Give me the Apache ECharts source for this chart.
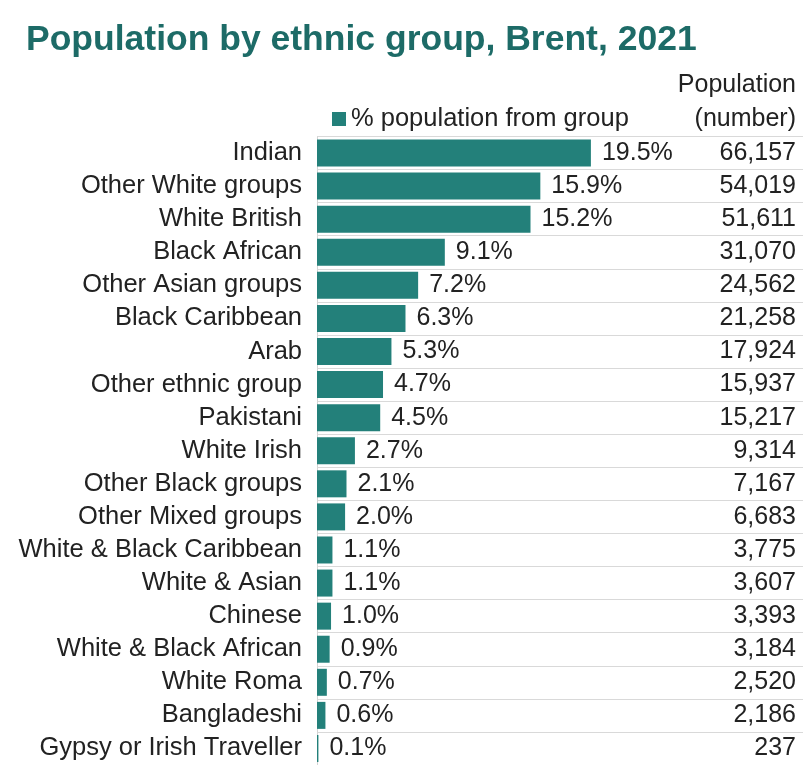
<!DOCTYPE html>
<html>
<head>
<meta charset="utf-8">
<script src="https://cdn.jsdelivr.net/npm/echarts@6/dist/echarts.min.js"></script>
<style>
html,body{margin:0;padding:0;background:#fff;}
#chart{width:803px;height:765px;}
</style>
</head>
<body>
<div id="chart"></div>
<script>
const categories = ['Indian','Other White groups','White British','Black African','Other Asian groups','Black Caribbean','Arab','Other ethnic group','Pakistani','White Irish','Other Black groups','Other Mixed groups','White & Black Caribbean','White & Asian','Chinese','White & Black African','White Roma','Bangladeshi','Gypsy or Irish Traveller'];
const pctValues = [19.5,15.9,15.2,9.1,7.2,6.3,5.3,4.7,4.5,2.7,2.1,2.0,1.1,1.1,1.0,0.9,0.7,0.6,0.1];
const popValues = [66157,54019,51611,31070,24562,21258,17924,15937,15217,9314,7167,6683,3775,3607,3393,3184,2520,2186,237];
const popLabels = popValues.map(v => v.toLocaleString('en-US'));
const popHeader = ['Population', '(number)'];

const FONT = '"Liberation Sans", Arial, sans-serif';
const TXT = '#222222';
const chart = echarts.init(document.getElementById('chart'), null, {renderer:'canvas'});
chart.setOption({
  animation: false,
  backgroundColor: '#ffffff',
  title: {text: 'Population by ethnic group, Brent, 2021', left: 21, top: 17,
     textStyle: {fontFamily: FONT, fontSize: 35.5, fontWeight: 'bold', color: '#1d6b67'}},
  graphic: [
    {type: 'text', right: 7, top: 73,
     style: {text: popHeader[0], fontFamily: FONT, fontSize: 25, fill: TXT}},
    {type: 'text', right: 7, top: 107,
     style: {text: popHeader[1], fontFamily: FONT, fontSize: 25, fill: TXT}}
  ],
  legend: {
    left: 327, top: 101, itemWidth: 14, itemHeight: 14, icon: 'rect',
    textStyle: {fontFamily: FONT, fontSize: 25.5, color: TXT, lineHeight: 26},
    data: ['% population from group']
  },
  grid: {left: 317, right: 0, top: 136.5, height: 632.3, containLabel: false},
  xAxis: {type: 'value', min: 0, max: 34.6, show: false},
  yAxis: [
    {type: 'category', data: categories, inverse: true,
     axisLine: {show: true, lineStyle: {color: '#d4d4d4', width: 1}},
     axisTick: {show: false},
     splitLine: {show: true, interval: 0, lineStyle: {color: '#d9d9d9', width: 1}},
     axisLabel: {interval: 0, margin: 15, fontFamily: FONT, fontSize: 25.5, color: TXT}},
    {type: 'category', data: popLabels, inverse: true, position: 'right',
     axisLine: {show: false}, axisTick: {show: false}, splitLine: {show: false},
     axisLabel: {interval: 0, inside: true, margin: 7, fontFamily: FONT, fontSize: 25, color: TXT}}
  ],
  series: [{
    name: '% population from group', type: 'bar', data: pctValues, yAxisIndex: 0,
    barWidth: 27, itemStyle: {color: '#23807a'},
    label: {show: true, position: 'right', distance: 11, fontFamily: FONT, fontSize: 25, color: TXT,
            formatter: p => p.value.toFixed(1) + '%'}
  }]
});
</script>
</body>
</html>
